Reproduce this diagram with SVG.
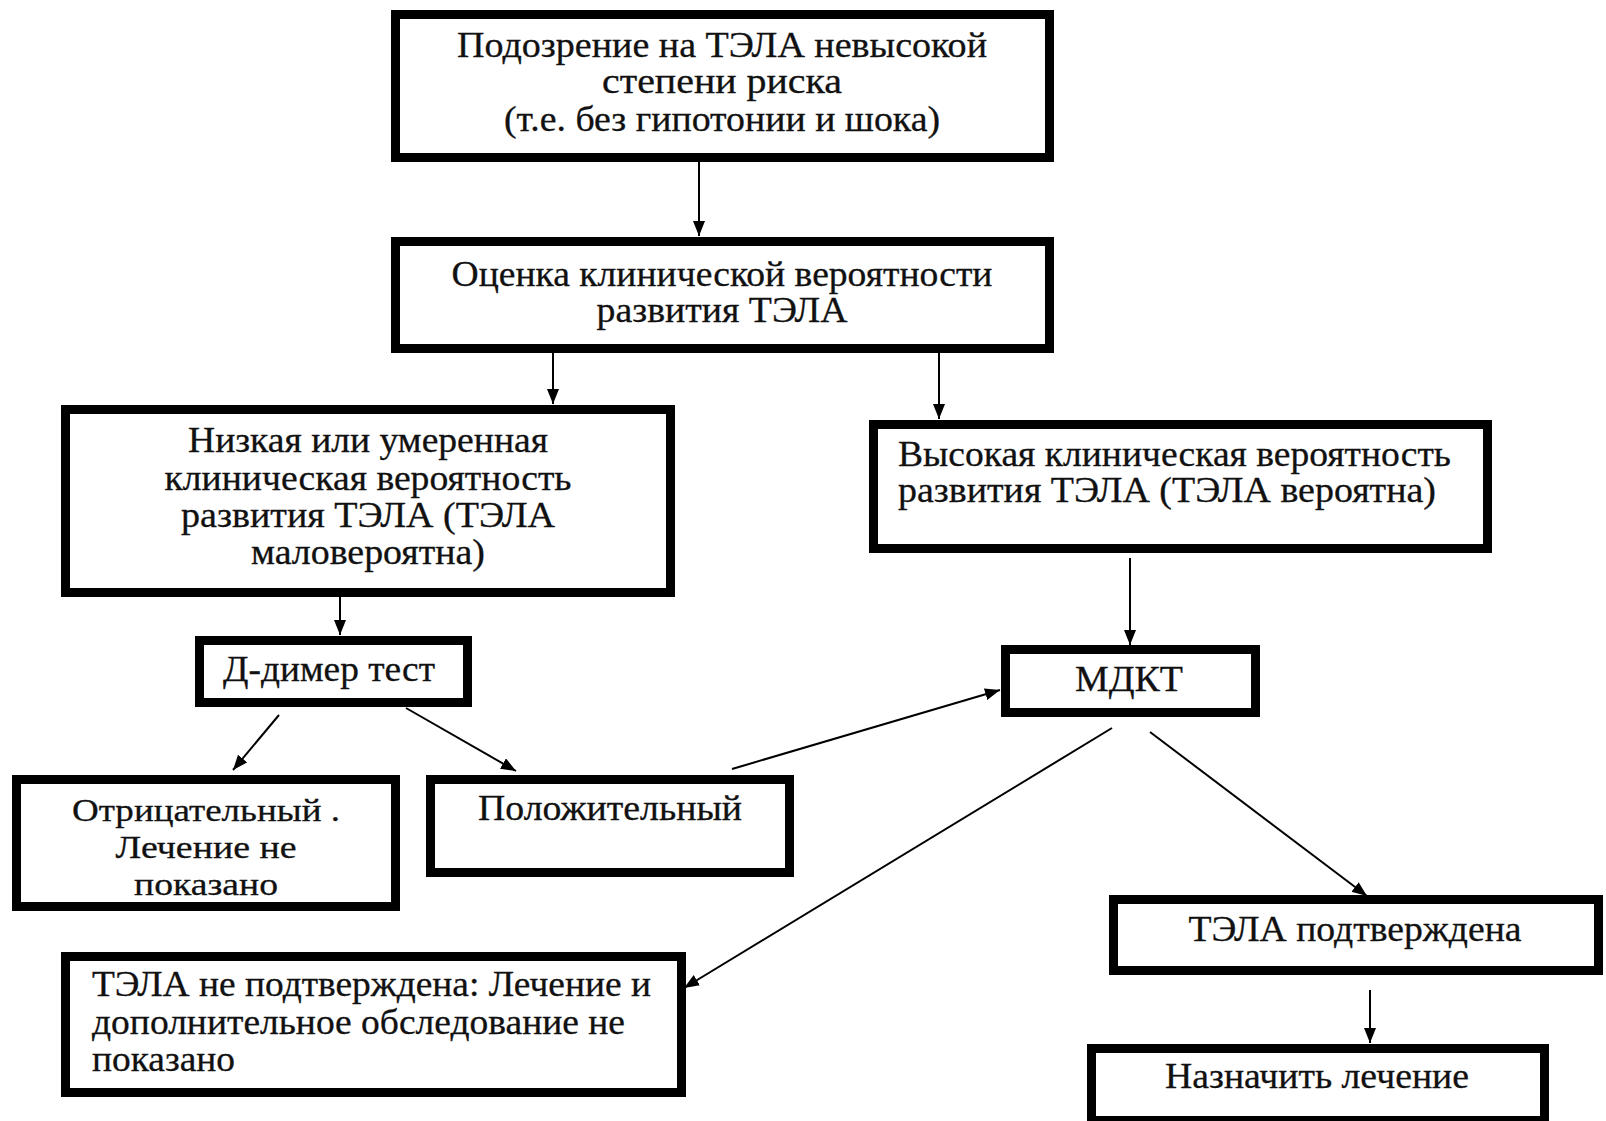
<svg xmlns="http://www.w3.org/2000/svg" width="1606" height="1121" viewBox="0 0 1606 1121">
<style>
.box{fill:#fff;stroke:#000;stroke-width:9}
.t{font-family:"Liberation Serif","Times New Roman",serif;font-size:35px;fill:#111;stroke:#111;stroke-width:0.3}
.s{font-size:32px}
.c{text-anchor:middle}
.ln{stroke:#000;stroke-width:2;fill:none;marker-end:url(#ah)}
</style>
<defs>
<marker id="ah" markerUnits="userSpaceOnUse" markerWidth="16" markerHeight="14" refX="15" refY="6" orient="auto">
<path d="M0,0 L15,6 L0,12 z" fill="#000"/>
</marker>
</defs>
<rect width="1606" height="1121" fill="#fff"/>
<g id="connectors">
<line class="ln" x1="699" y1="162" x2="699" y2="236"/>
<line class="ln" x1="553" y1="353" x2="553" y2="404"/>
<line class="ln" x1="939" y1="353" x2="939" y2="419"/>
<line class="ln" x1="340" y1="597" x2="340" y2="635"/>
<line class="ln" x1="279" y1="715" x2="233" y2="770"/>
<line class="ln" x1="406" y1="708" x2="516" y2="771"/>
<line class="ln" x1="732" y1="769" x2="1000" y2="690"/>
<line class="ln" x1="1130" y1="558" x2="1130" y2="645"/>
<line class="ln" x1="1112" y1="728" x2="684" y2="988"/>
<line class="ln" x1="1150" y1="732" x2="1367" y2="896"/>
<line class="ln" x1="1370" y1="990" x2="1370" y2="1043"/>
</g>
<g id="n1">
<rect class="box" x="395.5" y="14.5" width="654" height="143"/>
<text class="t c" x="722" y="57" textLength="530" lengthAdjust="spacingAndGlyphs">Подозрение на ТЭЛА невысокой</text>
<text class="t c" x="722" y="93" textLength="240" lengthAdjust="spacingAndGlyphs">степени риска</text>
<text class="t c" x="722" y="131" textLength="436" lengthAdjust="spacingAndGlyphs">(т.е. без гипотонии и шока)</text>
</g>
<g id="n2">
<rect class="box" x="395.5" y="241.5" width="654" height="107"/>
<text class="t c" x="722" y="286" textLength="541" lengthAdjust="spacingAndGlyphs">Оценка клинической вероятности</text>
<text class="t c" x="722" y="322" textLength="251" lengthAdjust="spacingAndGlyphs">развития ТЭЛА</text>
</g>
<g id="n3">
<rect class="box" x="65.5" y="409.5" width="605" height="183"/>
<text class="t c" x="368" y="452" textLength="360" lengthAdjust="spacingAndGlyphs">Низкая или умеренная</text>
<text class="t c" x="368" y="490" textLength="407" lengthAdjust="spacingAndGlyphs">клиническая вероятность</text>
<text class="t c" x="368" y="527" textLength="374" lengthAdjust="spacingAndGlyphs">развития ТЭЛА (ТЭЛА</text>
<text class="t c" x="368" y="564" textLength="234" lengthAdjust="spacingAndGlyphs">маловероятна)</text>
</g>
<g id="n4">
<rect class="box" x="873.5" y="424.5" width="614" height="124"/>
<text class="t" x="898" y="466" textLength="553" lengthAdjust="spacingAndGlyphs">Высокая клиническая вероятность</text>
<text class="t" x="898" y="502" textLength="538" lengthAdjust="spacingAndGlyphs">развития ТЭЛА (ТЭЛА вероятна)</text>
</g>
<g id="n5">
<rect class="box" x="199.5" y="640.5" width="268" height="62"/>
<text class="t c" x="329" y="681" textLength="212" lengthAdjust="spacingAndGlyphs">Д-димер тест</text>
</g>
<g id="n6">
<rect class="box" x="1005.5" y="649.5" width="250" height="63"/>
<text class="t c" x="1129" y="691" textLength="108" lengthAdjust="spacingAndGlyphs">МДКТ</text>
</g>
<g id="n7">
<rect class="box" x="16.5" y="779.5" width="379" height="127"/>
<text class="t s c" x="206" y="821" textLength="268" lengthAdjust="spacingAndGlyphs">Отрицательный .</text>
<text class="t s c" x="206" y="858" textLength="181" lengthAdjust="spacingAndGlyphs">Лечение не</text>
<text class="t s c" x="206" y="895" textLength="144" lengthAdjust="spacingAndGlyphs">показано</text>
</g>
<g id="n8">
<rect class="box" x="430.5" y="779.5" width="359" height="93"/>
<text class="t c" x="610" y="820" textLength="264" lengthAdjust="spacingAndGlyphs">Положительный</text>
</g>
<g id="n9">
<rect class="box" x="1113.5" y="899.5" width="485" height="71"/>
<text class="t c" x="1355" y="941" textLength="333" lengthAdjust="spacingAndGlyphs">ТЭЛА подтверждена</text>
</g>
<g id="n10">
<rect class="box" x="1091.5" y="1048.5" width="453" height="72"/>
<text class="t c" x="1317" y="1088" textLength="304" lengthAdjust="spacingAndGlyphs">Назначить лечение</text>
</g>
<g id="n11">
<rect class="box" x="65.5" y="956.5" width="616" height="136"/>
<text class="t" x="92" y="996" textLength="559" lengthAdjust="spacingAndGlyphs">ТЭЛА не подтверждена: Лечение и</text>
<text class="t" x="92" y="1034" textLength="533" lengthAdjust="spacingAndGlyphs">дополнительное обследование не</text>
<text class="t" x="92" y="1071" textLength="143" lengthAdjust="spacingAndGlyphs">показано</text>
</g>
</svg>
